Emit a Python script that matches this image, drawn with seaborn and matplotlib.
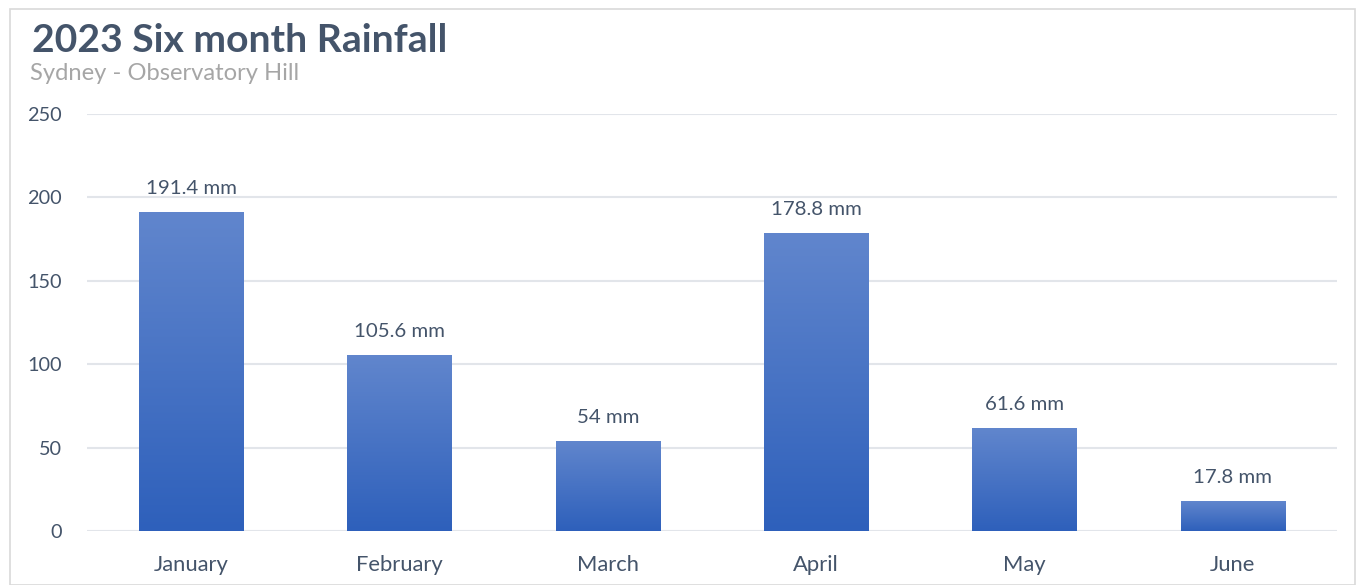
import numpy as np
import pandas as pd
import matplotlib
matplotlib.use("Agg")
import matplotlib.pyplot as plt
import seaborn as sns
from matplotlib.colors import LinearSegmentedColormap
from matplotlib.patches import Rectangle

months = ["January", "February", "March", "April", "May", "June"]
rainfall = [191.4, 105.6, 54, 178.8, 61.6, 17.8]
labels = ["191.4 mm", "105.6 mm", "54 mm", "178.8 mm", "61.6 mm", "17.8 mm"]
yticks = [0, 50, 100, 150, 200, 250]

title = "2023 Six month Rainfall"
subtitle = "Sydney - Observatory Hill"

sns.set_theme(style="white")
plt.rcParams["font.family"] = ["Lato", "DejaVu Sans"]

slate = "#44546A"
grid_c = "#E2E5EA"

fig = plt.figure(figsize=(13.56, 5.85), dpi=100)
ax = fig.add_axes([87/1356, 1-531/585, 1250/1356, 417/585])

df = pd.DataFrame({"month": months, "rain": rainfall})
sns.barplot(data=df, x="month", y="rain", ax=ax, width=0.5, color="#4472C4",
            saturation=1, zorder=3)

cmap = LinearSegmentedColormap.from_list("g", ["#2E60BB", "#6186CD"])
grad = np.linspace(0, 1, 256).reshape(-1, 1)
for p in ax.patches:
    x0, y0 = p.get_x(), p.get_y()
    w, h = p.get_width(), p.get_height()
    im = ax.imshow(grad, cmap=cmap, origin="lower", aspect="auto",
                   extent=[x0, x0 + w, y0, y0 + h], zorder=4)
    im.set_clip_path(p)
    p.set_facecolor("none")
    p.set_edgecolor("none")

for i, (v, lab) in enumerate(zip(rainfall, labels)):
    ax.annotate(lab, (i, v), xytext=(0, 17), textcoords="offset points",
                ha="center", va="center", fontsize=14.7, color=slate, zorder=5)

ax.set_xlim(-0.5, 5.5)
ax.set_ylim(0, 250)
ax.set_yticks(yticks)
ax.set_yticklabels([str(t) for t in yticks])
ax.yaxis.grid(True, color=grid_c, linewidth=1.5, zorder=0)
ax.set_axisbelow(True)
for s in ax.spines.values():
    s.set_visible(False)
ax.tick_params(axis="y", length=0, pad=18, labelsize=14.3, labelcolor=slate)
ax.tick_params(axis="x", length=0, pad=17, labelsize=15.8, labelcolor=slate)
ax.set_xlabel("")
ax.set_ylabel("")

fig.text(32/1356, 1-41/585, title, fontsize=28.2, fontweight="bold",
         color=slate, ha="left", va="center")
fig.text(30/1356, 1-74/585, subtitle, fontsize=17.1, color="#A6A6A6",
         ha="left", va="center")

fig.patches.append(Rectangle((10/1356, 0), 1 - 10/1356 - 1/1356, 1 - 9/585,
                             transform=fig.transFigure, fill=False,
                             edgecolor="#D9D9D9", linewidth=1.2, zorder=0))

fig.savefig("out.png", dpi=100, facecolor="white")
